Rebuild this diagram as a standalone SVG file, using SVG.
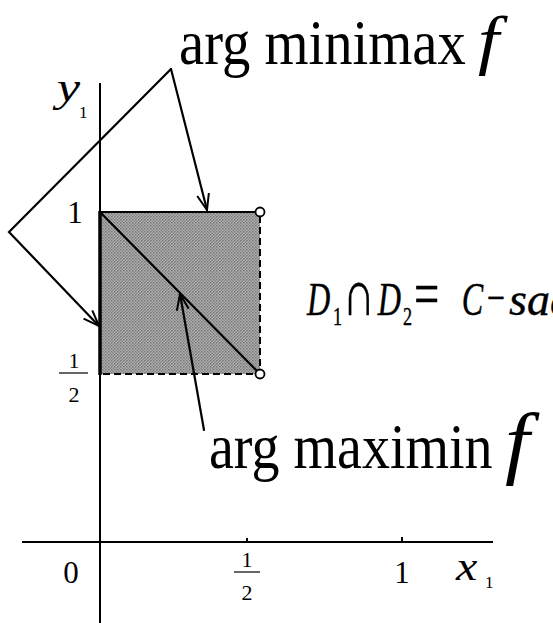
<svg xmlns="http://www.w3.org/2000/svg" width="553" height="623" viewBox="0 0 553 623">
<style>
.ax{stroke:#000;stroke-width:2;fill:none}
.ln{stroke:#000;stroke-width:2.2;fill:none;stroke-linecap:round}
.dash{stroke:#000;stroke-width:2;fill:none;stroke-dasharray:7,4}
.t{font-family:"Liberation Serif","DejaVu Serif",serif;fill:#000}
.it{font-family:"Liberation Serif","DejaVu Serif",serif;font-style:italic;fill:#000}
.eq{stroke:#000;stroke-width:0.4}
</style>
<defs>
<marker id="ah" viewBox="0 0 18 14" refX="17" refY="7" markerWidth="18" markerHeight="14" markerUnits="userSpaceOnUse" orient="auto">
<path d="M1,1 L17,7 L1,13" fill="none" stroke="#000" stroke-width="2"/>
</marker>
<pattern id="st" width="3" height="3" patternUnits="userSpaceOnUse">
<rect width="3" height="3" fill="#b0b0b0"/>
<rect width="1.5" height="1.5" fill="#767676"/>
<rect x="1.5" y="1.5" width="1.5" height="1.5" fill="#868686"/>
</pattern>
</defs>
<rect width="553" height="623" fill="#fff"/>
<g id="region">
<rect x="100" y="212" width="160" height="162" fill="url(#st)"/>
<line class="ln" x1="100" y1="212" x2="258" y2="212"/>
<line class="dash" x1="260" y1="216" x2="260" y2="370"/>
<line class="dash" x1="103" y1="374" x2="256" y2="374"/>
<line class="ln" x1="100" y1="212" x2="257" y2="371"/>
<circle cx="260" cy="212" r="4.5" fill="#fff" stroke="#000" stroke-width="1.8"/>
<circle cx="260" cy="374" r="4.5" fill="#fff" stroke="#000" stroke-width="1.8"/>
</g>
<g id="axes">
<line class="ax" x1="100" y1="83" x2="100" y2="623"/>
<line x1="100" y1="211" x2="100" y2="375" stroke="#000" stroke-width="3.5"/>
<line class="ax" x1="22" y1="542" x2="493" y2="542"/>
<line class="ax" x1="247" y1="538" x2="247" y2="542"/>
<line class="ax" x1="402" y1="537" x2="402" y2="542"/>
</g>
<g id="labels">
<text class="it" font-size="40" transform="translate(57,101) scale(1.3,1)">y</text>
<text class="t" x="79" y="118" font-size="17">1</text>
<text class="it" font-size="40" transform="translate(456,580) scale(1.2,1)">x</text>
<text class="t" x="485" y="588" font-size="17">1</text>
<text class="t" x="71" y="583" font-size="31" text-anchor="middle">0</text>
<text class="t" x="402" y="583" font-size="31" text-anchor="middle">1</text>
<text class="t" x="247" y="567" font-size="22" text-anchor="middle">1</text>
<line x1="234" y1="572" x2="260" y2="572" stroke="#000" stroke-width="1.2"/>
<text class="t" x="247" y="600" font-size="22" text-anchor="middle">2</text>
<text class="t" x="75" y="223" font-size="31" text-anchor="middle">1</text>
<text class="t" x="74" y="368" font-size="22" text-anchor="middle">1</text>
<line x1="59" y1="373" x2="88" y2="373" stroke="#000" stroke-width="1.2"/>
<text class="t" x="74" y="402" font-size="22" text-anchor="middle">2</text>
</g>
<g id="minimax">
<text class="t" font-size="64" transform="translate(179,64) scale(0.885,1)">arg minimax</text>
<text class="it" font-size="66" transform="translate(478,62) scale(1.15,1)">f</text>
</g>
<g id="maximin">
<text class="t" font-size="64" transform="translate(209,468) scale(0.875,1)">arg maximin</text>
<text class="it" font-size="80" transform="translate(505,469) scale(1.1,1)">f</text>
</g>
<g id="equation">
<text class="it eq" font-size="46" transform="translate(307,315) scale(0.7,1)"><tspan x="0" y="0">D</tspan><tspan x="37" y="10" font-style="normal" font-size="26">1</tspan><tspan x="51" y="0" font-style="normal" font-size="64">∩</tspan><tspan x="101" y="0">D</tspan><tspan x="137" y="10" font-style="normal" font-size="26">2</tspan><tspan x="153" y="0" font-style="normal" font-size="64">=</tspan><tspan x="221" y="0">C</tspan><tspan x="257" y="-2" font-style="normal" font-size="46">−</tspan></text>
<text class="it eq" x="509" y="315" font-size="46" stroke-width="0.3">sad</text>
</g>
<g id="connectors">
<polyline class="ln" points="171,69 9,232 99,326" marker-end="url(#ah)"/>
<line class="ln" x1="171" y1="69" x2="207" y2="210" marker-end="url(#ah)"/>
<line class="ln" x1="204" y1="430" x2="180" y2="294" marker-end="url(#ah)"/>
</g>
</svg>
